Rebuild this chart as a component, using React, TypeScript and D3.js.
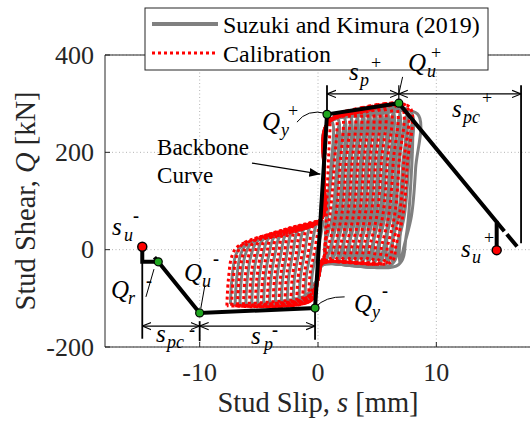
import * as d3 from "d3";

const W = 530;
const H = 428;

const xTicks = [-10, 0, 10];
const yTicks = [-200, 0, 200, 400];

// Suzuki and Kimura (2019) test, one entry per cycle
const testPosSlip = [1.2, 1.7, 2.2, 2.7, 3.2, 3.7, 4.2, 4.7, 5.2, 5.7, 6.2, 6.7, 7.3, 7.8, 8.4];
const testPosShear = [262, 268, 272, 276, 280, 283, 286, 288, 290, 291, 292, 291, 289, 285, 279];
const testPosBottom = [-18, -20, -21, -22, -23, -24, -25, -25, -26, -26, -27, -27, -28, -28, -28];
const testNegSlip = [-0.6, -1.1, -1.6, -2.1, -2.6, -3.1, -3.6, -4.1, -4.6, -5.1, -5.6, -6.1, -6.6, -7.0, -7.4];
const testNegShear = [-88, -95, -99, -102, -104, -106, -107, -108, -109, -110, -110, -111, -111, -112, -112];
const testNegTop = [56, 52, 49, 45, 41, 38, 34, 30, 27, 23, 20, 16, 12, 10, 7];

// calibrated model, one entry per cycle
const calPosSlip = [1.0, 1.5, 2.0, 2.5, 3.0, 3.5, 4.0, 4.5, 5.0, 5.5, 6.0, 6.5, 7.0, 7.4, 7.7];
const calPosShear = [276, 279, 281, 283, 285, 287, 289, 291, 293, 295, 296, 297, 298, 297, 294];
const calPosBottom = [-15, -17, -18, -19, -20, -21, -22, -22, -23, -23, -24, -24, -25, -25, -25];
const calNegSlip = [-0.8, -1.3, -1.8, -2.3, -2.8, -3.3, -3.8, -4.3, -4.8, -5.3, -5.8, -6.3, -6.8, -7.3, -7.7];
const calNegShear = [-98, -102, -105, -107, -108, -109, -110, -111, -112, -113, -113, -114, -114, -115, -115];
const calNegTop = [58, 54, 51, 47, 44, 40, 37, 33, 29, 26, 22, 18, 15, 11, 6];

// backbone curve
const backboneSlip = [-14.85, -14.85, -13.5, -10, -0.25, 0.76, 6.83, 15.1, 15.1];
const backboneShear = [6, -25, -25, -130, -120, 278, 301, 57, -1];
const greenSlip = [-13.5, -10, -0.25, 0.76, 6.83];
const greenShear = [-25, -130, -120, 278, 301];
const redSlip = [-14.85, 15.1];
const redShear = [6, -1];

const x = d3.scaleLinear().domain([-18, 18]).range([105, 531]);
const y = d3.scaleLinear().domain([-200, 400]).range([347, 55]);

type Pt = [number, number];

const loopLine = d3
  .line<Pt>()
  .x((d) => x(d[0]))
  .y((d) => y(d[1]))
  .curve(d3.curveCatmullRom.alpha(0.5));

const plainLine = d3
  .line<Pt>()
  .x((d) => x(d[0]))
  .y((d) => y(d[1]));

function cyclePoints(
  sp: number,
  qp: number,
  pb: number,
  sn: number,
  qn: number,
  nt: number,
  repeat: boolean
): Pt[] {
  const pts: Pt[] = [];
  // unload from the negative peak, reload along the friction band
  pts.push([sn, qn], [sn + 0.12, qn * 0.55], [sn + 0.45, qn * 0.1], [sn + 1.0, nt + 2]);
  pts.push([0.25, 62], [0.5, 150], [0.78, 258]);
  if (sp > 1.5) pts.push([(0.78 + sp) / 2, (258 + qp) / 2 + 8]);
  pts.push([sp, qp]);
  // unloading
  pts.push(
    [sp - 0.15, qp * 0.6],
    [Math.max(sp - 0.5, 0.7), qp * 0.25],
    [Math.max(sp - 1.1, 0.6), 10],
    [Math.max(sp - 1.5, 0.5), pb]
  );
  if (repeat && sp > 2) {
    pts.push([sp - 1.2, 120], [sp - 0.4, qp - 12], [sp - 0.55, qp * 0.5], [sp - 0.95, qp * 0.1], [sp - 1.6, pb - 3]);
  }
  // negative loading
  pts.push([0.35, pb - 4], [0.0, -60], [-0.6, qn + 10], [sn, qn]);
  return pts;
}

const testLoops = testPosSlip.map((sp, i) =>
  cyclePoints(sp, testPosShear[i], testPosBottom[i], testNegSlip[i], testNegShear[i], testNegTop[i], true)
);
const calLoops = calPosSlip.map((sp, i) =>
  cyclePoints(sp, calPosShear[i], calPosBottom[i], calNegSlip[i], calNegShear[i], calNegTop[i], false)
);

const serif = "'Liberation Serif', 'Times New Roman', serif";
const axisColor = "#262626";
const gridColor = "#b4b4b4";

type Lbl = { s: number; q: number; main: string; sub: string; sup: string; subDx: number; supDx: number; supDy: number };
const labels: Lbl[] = [
  { s: -4.73, q: 246, main: "Q", sub: "y", sup: "+", subDx: 19, supDx: 26, supDy: -13 },
  { s: 7.6, q: 367, main: "Q", sub: "u", sup: "+", subDx: 19, supDx: 23, supDy: -12 },
  { s: 2.62, q: 349, main: "s", sub: "p", sup: "+", subDx: 11, supDx: 22, supDy: -11 },
  { s: 11.32, q: 273, main: "s", sub: "pc", sup: "+", subDx: 11, supDx: 30, supDy: -13 },
  { s: 12.08, q: -15, main: "s", sub: "u", sup: "+", subDx: 11, supDx: 23, supDy: -13 },
  { s: -17.41, q: 30, main: "s", sub: "u", sup: "-", subDx: 12, supDx: 21, supDy: -13 },
  { s: -17.49, q: -99, main: "Q", sub: "r", sup: "-", subDx: 17, supDx: 35, supDy: -11 },
  { s: -11.32, q: -64, main: "Q", sub: "u", sup: "-", subDx: 18, supDx: 29, supDy: -16 },
  { s: -13.69, q: -190, main: "s", sub: "pc", sup: "-", subDx: 11, supDx: 33, supDy: -6 },
  { s: -5.66, q: -194, main: "s", sub: "p", sup: "-", subDx: 13, supDx: 21, supDy: -8 },
  { s: 3.04, q: -128, main: "Q", sub: "y", sup: "-", subDx: 18, supDx: 28, supDy: -15 },
];

export default function App() {
  const left = x.range()[0];
  const right = x.range()[1];
  const top = y.range()[1];
  const bottom = y.range()[0];
  const backbone: Pt[] = backboneSlip.map((s, i) => [s, backboneShear[i]]);

  return (
    <svg
      width={W}
      height={H}
      style={{ position: "absolute", left: 0, top: 0, background: "#fff" }}
      fontFamily={serif}
    >
      <defs>
        <marker id="dim" viewBox="0 0 10 10" refX="10" refY="5" markerWidth="9" markerHeight="9" markerUnits="userSpaceOnUse" orient="auto-start-reverse">
          <path d="M0,1 L10,5 L0,9" fill="none" stroke="#000" strokeWidth="1.2" />
        </marker>
        <marker id="tip" viewBox="0 0 10 10" refX="10" refY="5" markerWidth="11" markerHeight="11" markerUnits="userSpaceOnUse" orient="auto">
          <path d="M0,1 L10,5 L0,9 Z" fill="#000" />
        </marker>
      </defs>
      <rect width={W} height={H} fill="#fff" />

      {/* grid */}
      {xTicks.map((t) => (
        <line key={"gx" + t} x1={x(t)} x2={x(t)} y1={top} y2={bottom} stroke={gridColor} strokeDasharray="1,2.5" />
      ))}
      {yTicks.map((t) => (
        <line key={"gy" + t} x1={left} x2={right} y1={y(t)} y2={y(t)} stroke={gridColor} strokeDasharray="1,2.5" />
      ))}

      {/* hysteresis loops */}
      <g fill="none">
        {testLoops.map((pts, i) => (
          <path key={"t" + i} d={loopLine(pts) ?? ""} stroke="#808080" strokeWidth={3} />
        ))}
        {calLoops.map((pts, i) => (
          <path key={"c" + i} d={loopLine(pts) ?? ""} stroke="#ff0000" strokeWidth={3} strokeDasharray="3,3" />
        ))}
      </g>

      {/* axes box */}
      <g stroke={axisColor} strokeWidth={1}>
        <line x1={left} x2={left} y1={top} y2={bottom} />
        <line x1={left} x2={right} y1={bottom} y2={bottom} />
        <line x1={left} x2={right} y1={top} y2={top} />
        {xTicks.map((t) => (
          <g key={"tx" + t}>
            <line x1={x(t)} x2={x(t)} y1={bottom} y2={bottom - 5} />
            <line x1={x(t)} x2={x(t)} y1={top} y2={top + 5} />
          </g>
        ))}
        {yTicks.map((t) => (
          <line key={"ty" + t} x1={left} x2={left + 5} y1={y(t)} y2={y(t)} />
        ))}
      </g>
      <g fill={axisColor} fontSize={26}>
        {xTicks.map((t) => (
          <text key={"lx" + t} x={x(t)} y={381} textAnchor="middle">
            {t}
          </text>
        ))}
        {yTicks.map((t) => (
          <text key={"ly" + t} x={left - 11} y={y(t) + 8.5} textAnchor="end">
            {t}
          </text>
        ))}
      </g>
      <text x={(left + right) / 2} y={412} textAnchor="middle" fontSize={28.5} fill={axisColor}>
        Stud Slip, <tspan fontStyle="italic">s</tspan> [mm]
      </text>
      <text transform={`translate(35,${(top + bottom) / 2}) rotate(-90)`} textAnchor="middle" fontSize={28.5} fill={axisColor}>
        Stud Shear, <tspan fontStyle="italic">Q</tspan> [kN]
      </text>

      {/* legend */}
      <g>
        <rect x={145} y={8} width={343} height={62} fill="#fff" stroke={axisColor} strokeWidth={1} />
        <line x1={152} x2={218} y1={24} y2={24} stroke="#808080" strokeWidth={4} />
        <line x1={152} x2={218} y1={53} y2={53} stroke="#ff0000" strokeWidth={3} strokeDasharray="3,3" />
        <text x={223} y={33} fontSize={24} fill="#000">
          Suzuki and Kimura (2019)
        </text>
        <text x={223} y={62} fontSize={24} fill="#000">
          Calibration
        </text>
      </g>

      {/* dimension lines */}
      <g stroke="#000" fill="none">
        <line x1={x(0.76)} x2={x(0.76)} y1={y(278)} y2={y(338)} strokeWidth={1.8} />
        <line x1={x(17.16)} x2={x(17.16)} y1={y(338)} y2={y(13)} strokeWidth={1.8} />
        <line x1={x(6.83)} x2={x(6.83)} y1={y(301)} y2={y(338)} strokeWidth={1.2} />
        <line x1={x(7.15)} x2={x(6.83)} y1={y(355)} y2={y(320)} strokeWidth={1} />
        <line x1={x(0.76)} x2={x(6.83)} y1={y(320)} y2={y(320)} strokeWidth={1.2} markerStart="url(#dim)" markerEnd="url(#dim)" />
        <line x1={x(6.83)} x2={x(17.16)} y1={y(320)} y2={y(320)} strokeWidth={1.2} markerStart="url(#dim)" markerEnd="url(#dim)" />

        <line x1={x(-14.85)} x2={x(-14.85)} y1={y(-25)} y2={y(-183)} strokeWidth={1.8} />
        <line x1={x(-10)} x2={x(-10)} y1={y(-147)} y2={y(-188)} strokeWidth={1.8} />
        <line x1={x(-0.25)} x2={x(-0.25)} y1={y(-120)} y2={y(-185)} strokeWidth={1.8} />
        <line x1={x(-14.85)} x2={x(-10)} y1={y(-157)} y2={y(-157)} strokeWidth={1.2} markerStart="url(#dim)" markerEnd="url(#dim)" />
        <line x1={x(-10)} x2={x(-0.25)} y1={y(-157)} y2={y(-157)} strokeWidth={1.2} markerStart="url(#dim)" markerEnd="url(#dim)" />

        {/* leaders */}
        <path d={`M${x(-1.78)},${y(262)} Q${x(-0.9)},${y(290)} ${x(0.68)},${y(280)}`} strokeWidth={1} />
        <path d={`M${x(-0.2)},${y(-118)} Q${x(0.6)},${y(-96)} ${x(2.25)},${y(-97)}`} strokeWidth={1} />
        <line x1={x(-9.55)} x2={x(-9.9)} y1={y(-72)} y2={y(-120)} strokeWidth={1} />
        <line x1={x(-14.54)} x2={x(-13.86)} y1={y(-97)} y2={y(-40)} strokeWidth={1} />
        <line x1={x(-5.58)} x2={x(0.2)} y1={y(178)} y2={y(155)} strokeWidth={1.3} markerEnd="url(#tip)" />
      </g>

      {/* backbone */}
      <path d={plainLine(backbone) ?? ""} fill="none" stroke="#000" strokeWidth={4} strokeLinejoin="miter" />
      <path
        d={plainLine([[15.1, 57], [16.9, 4]]) ?? ""}
        fill="none"
        stroke="#000"
        strokeWidth={4}
        strokeDasharray="12,4,16"
      />
      <path d={plainLine([[-13.62, -21.5], [-13.82, -15.5]]) ?? ""} fill="none" stroke="#000" strokeWidth={4} />
      {greenSlip.map((s, i) => (
        <circle key={"g" + i} cx={x(s)} cy={y(greenShear[i])} r={4} fill="#1fa51f" stroke="#000" strokeWidth={1.2} />
      ))}
      {redSlip.map((s, i) => (
        <circle key={"r" + i} cx={x(s)} cy={y(redShear[i])} r={4.5} fill="#ff0000" stroke="#000" strokeWidth={1.5} />
      ))}

      {/* labels */}
      <g fill="#000">
        {labels.map((l, i) => {
          const px = x(l.s);
          const py = y(l.q);
          return (
            <g key={"lab" + i}>
              <text x={px} y={py} fontSize={25} fontStyle="italic">
                {l.main}
              </text>
              <text x={px + l.subDx} y={py + 6} fontSize={18} fontStyle="italic">
                {l.sub}
              </text>
              <text x={px + l.supDx} y={py + l.supDy} fontSize={18} fontWeight={l.sup === "-" ? "bold" : "normal"}>
                {l.sup}
              </text>
            </g>
          );
        })}
        <text x={x(-13.6)} y={y(195.5)} fontSize={23}>
          Backbone
        </text>
        <text x={x(-13.6)} y={y(137)} fontSize={23}>
          Curve
        </text>
      </g>
    </svg>
  );
}
